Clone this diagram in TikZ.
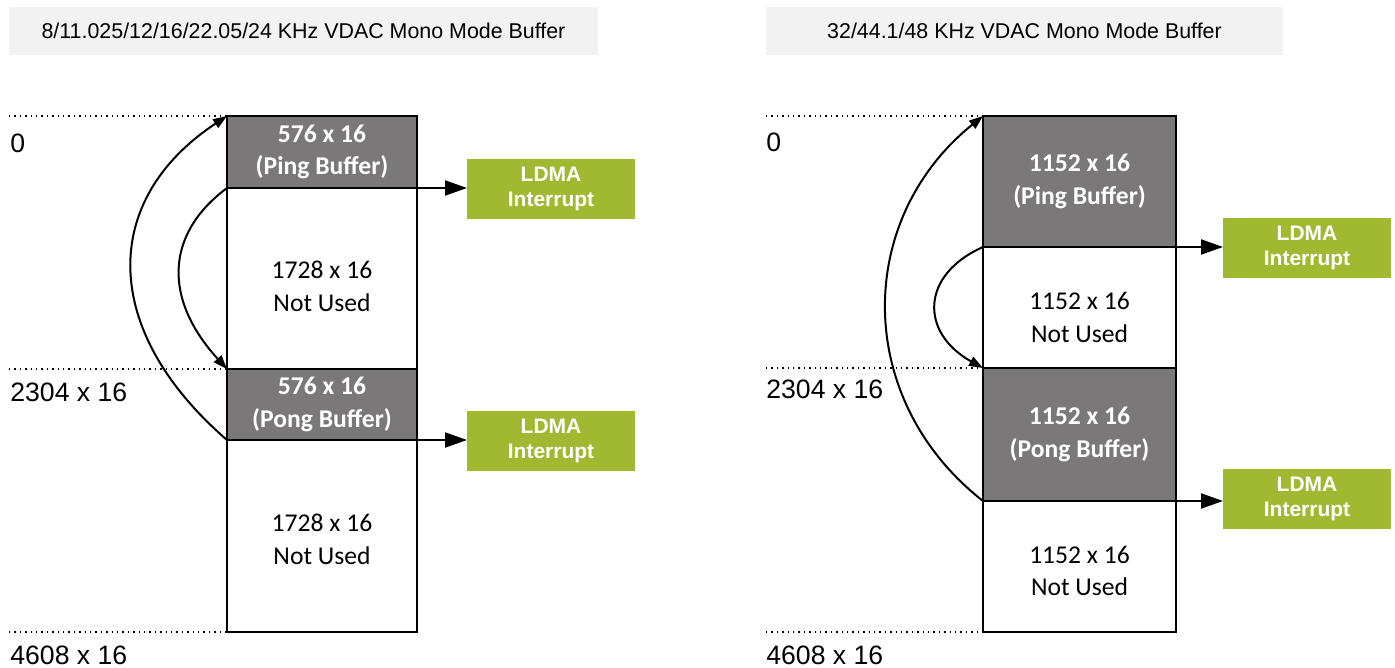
\documentclass[tikz,border=0pt]{standalone}
\usepackage{fontspec}
\setmainfont{Liberation Sans}
\newfontfamily\calfont{Carlito}
\usetikzlibrary{arrows.meta,positioning}
\usepackage{xcolor}
\definecolor{bufgray}{RGB}{122,120,121}
\definecolor{ldmagreen}{RGB}{161,185,48}
\definecolor{titlegray}{RGB}{242,242,242}

\tikzset{
  memcell/.style={draw, line width=1pt, inner sep=0pt, outer sep=0pt, align=center,
    font=\calfont\fontsize{12.8}{16.3}\selectfont},
  pingpong/.style={memcell, fill=bufgray, text=white,
    font=\calfont\bfseries\fontsize{12.8}{16.3}\selectfont},
  celltext/.style={align=center, inner sep=0pt, font=\calfont\fontsize{12.8}{16.3}\selectfont},
  ldma/.style={fill=ldmagreen, text=white, inner sep=0pt, outer sep=0pt, align=center,
    minimum width=84pt, minimum height=30pt, anchor=west,
    font=\bfseries\fontsize{10.5}{12.5}\selectfont},
  titlebar/.style={fill=titlegray, inner sep=0pt, minimum height=24pt,
    font=\fontsize{10.7}{12}\selectfont},
  addr/.style={anchor=west, inner sep=0pt, font=\fontsize{13.3}{14}\selectfont},
  swap/.style={line width=1pt, -{Triangle[length=7pt,width=5pt]}},
  irq/.style={line width=1pt, -{Triangle[length=11pt,width=7.5pt]}},
  guide/.style={dotted, line width=0.7pt}
}

\begin{document}
\begin{tikzpicture}[x=0.5pt, y=-0.5pt]
  \useasboundingbox (0,0) rectangle (1395,668);

  % Titles
  \node[titlebar, minimum width=294.5pt] (titleA) at (303.5,31) {8/11.025/12/16/22.05/24 KHz VDAC Mono Mode Buffer};
  \node[titlebar, minimum width=258.5pt] (titleB) at (1024.5,31) {32/44.1/48 KHz VDAC Mono Mode Buffer};

  % Left buffer
  \node[pingpong, anchor=north west, minimum width=95pt, minimum height=36pt] (pingA) at (227,116) {576 x 16\\(Ping Buffer)};
  \node[memcell, below=0pt of pingA, minimum width=95pt, minimum height=90.5pt] (freeA) {};
  \node[pingpong, below=0pt of freeA, minimum width=95pt, minimum height=35.5pt] (pongA) {576 x 16\\(Pong Buffer)};
  \node[memcell, below=0pt of pongA, minimum width=95pt, minimum height=96pt] (restA) {};
  \node[celltext] (freeAtext) at ([yshift=-4pt]freeA.center) {1728 x 16\\Not Used};
  \node[celltext] (restAtext) at ([yshift=-1.75pt]restA.center) {1728 x 16\\Not Used};

  \coordinate (topA) at (9,116);
  \coordinate (midA) at (9,369);
  \coordinate (endA) at (9,632);
  \draw[guide] (topA) -- (pingA.north west);
  \draw[guide] (midA) -- (pongA.north west);
  \draw[guide] (endA) -- (restA.south west);
  \node[addr] (zeroA) at (10,143) {0};
  \node[addr] (halfA) at (10,392) {2304 x 16};
  \node[addr] (fullA) at (10,655) {4608 x 16};

  \node[ldma] (irqA1) at (467,189) {LDMA\\Interrupt};
  \node[ldma] (irqA2) at (467,441) {LDMA\\Interrupt};
  \draw[irq] (pingA.south east) -- (irqA1.west |- pingA.south east);
  \draw[irq] (pongA.south east) -- (irqA2.west |- pongA.south east);

  \draw[swap] (pongA.south west) .. controls +(-127,-110) and +(-127,84) .. (pingA.north west);
  \draw[swap] (pingA.south west) .. controls +(-63,47) and +(-63,-69) .. (pongA.north west);

  % Right buffer
  \node[pingpong, anchor=north west, minimum width=96.5pt, minimum height=65.5pt] (pingB) at (983,116) {1152 x 16\\(Ping Buffer)};
  \node[memcell, below=0pt of pingB, minimum width=96.5pt, minimum height=60.5pt] (freeB) {};
  \node[pingpong, below=0pt of freeB, minimum width=96.5pt, minimum height=66.5pt] (pongB) {1152 x 16\\(Pong Buffer)};
  \node[memcell, below=0pt of pongB, minimum width=96.5pt, minimum height=65.5pt] (restB) {};
  \node[celltext] (freeBtext) at ([yshift=-5pt]freeB.center) {1152 x 16\\Not Used};
  \node[celltext] (restBtext) at ([yshift=-2.25pt]restB.center) {1152 x 16\\Not Used};

  \coordinate (topB) at (766,116);
  \coordinate (midB) at (766,368);
  \coordinate (endB) at (766,632);
  \draw[guide] (topB) -- (pingB.north west);
  \draw[guide] (midB) -- (pongB.north west);
  \draw[guide] (endB) -- (restB.south west);
  \node[addr] (zeroB) at (766,142) {0};
  \node[addr] (halfB) at (766,389) {2304 x 16};
  \node[addr] (fullB) at (766,655) {4608 x 16};

  \node[ldma] (irqB1) at (1223,247.5) {LDMA\\Interrupt};
  \node[ldma] (irqB2) at (1223,499) {LDMA\\Interrupt};
  \draw[irq] (pingB.south east) -- (irqB1.west |- pingB.south east);
  \draw[irq] (pongB.south east) -- (irqB2.west |- pongB.south east);

  \draw[swap] (pongB.south west) .. controls +(-129,-101) and +(-129,104) .. (pingB.north west);
  \draw[swap] (pingB.south west) .. controls +(-63,28) and +(-63,-35) .. (pongB.north west);
\end{tikzpicture}
\end{document}
